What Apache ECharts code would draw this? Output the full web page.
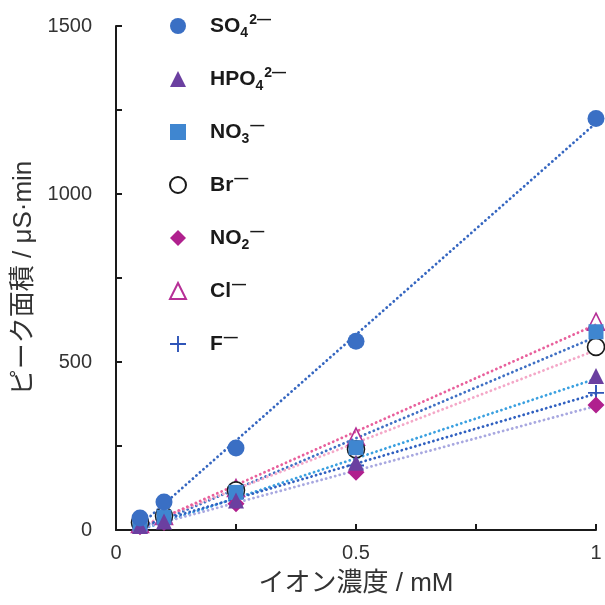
<!DOCTYPE html>
<html><head><meta charset="utf-8">
<script src="https://cdn.jsdelivr.net/npm/echarts@6/dist/echarts.min.js"></script>
<style>html,body{margin:0;padding:0;background:#fff}#c{width:605px;height:605px}</style>
</head><body><div id="c"></div>
<script>
const conc = [0.05, 0.1, 0.25, 0.5, 1.0];
const so4  = [36, 83, 244, 562, 1225];
const hpo4 = [12, 25, 88, 200, 458];
const no3  = [18, 38, 112, 245, 590];
const br   = [22, 42, 118, 240, 545];
const no2  = [10, 22, 78, 172, 372];
const cl   = [18, 42, 125, 278, 620];
const f    = [14, 30, 95, 192, 408];
const xTicks = [0, 0.5, 1];
const yTicks = [0, 500, 1000, 1500];

const legendRich = {
  SO4: '{b|SO}{sub|4}{sup|2—}',
  HPO4: '{b|HPO}{sub|4}{sup|2—}',
  NO3: '{b|NO}{sub|3}{sup|—}',
  Br: '{b|Br}{sup|—}',
  NO2: '{b|NO}{sub|2}{sup|—}',
  Cl: '{b|Cl}{sup|—}',
  F: '{b|F}{sup|—}'
};

const plusPath = 'path://M4.4,0 H5.6 V4.4 H10 V5.6 H5.6 V10 H4.4 V5.6 H0 V4.4 H4.4 Z';

const defs = [
  {name:'SO4', data:so4, symbol:'circle', size:17, item:{color:'#3a6fc4', opacity:1}, line:'#3566c0'},
  {name:'HPO4', data:hpo4, symbol:'triangle', size:16, item:{color:'#6b3fa0', opacity:1}, line:'#3aa0e0'},
  {name:'NO3', data:no3, symbol:'rect', size:15, item:{color:'#3f86d0', opacity:1}, line:'#3f70c4'},
  {name:'Br', data:br, symbol:'circle', size:17, item:{color:'#ffffff', borderColor:'#1a1a1a', borderWidth:1.6, opacity:1}, line:'#f4a8c8'},
  {name:'NO2', data:no2, symbol:'diamond', size:17, item:{color:'#b0208e', opacity:1}, line:'#a8a8e0'},
  {name:'Cl', data:cl, symbol:'triangle', size:17, item:{color:'rgba(255,255,255,0)', borderColor:'#b62f96', borderWidth:1.6, opacity:1}, line:'#e8609c'},
  {name:'F', data:f, symbol:plusPath, size:16, item:{color:'#2f55b8', opacity:1}, line:'#3060c0'}
];

function fit(ys) {
  const n = conc.length;
  let sx=0, sy=0, sxx=0, sxy=0;
  for (let i=0;i<n;i++){ sx+=conc[i]; sy+=ys[i]; sxx+=conc[i]*conc[i]; sxy+=conc[i]*ys[i]; }
  const b = (n*sxy - sx*sy)/(n*sxx - sx*sx);
  const a = (sy - b*sx)/n;
  const x0 = conc[0], x1 = conc[n-1];
  return [[x0, a+b*x0],[x1, a+b*x1]];
}

const series = [];
defs.forEach(d => {
  series.push({
    type:'line', name:d.name+'_fit', data:fit(d.data), showSymbol:false, silent:true, z:1,
    lineStyle:{color:d.line, width:2.8, type:[0.1,4.6], cap:'round', opacity:1}
  });
});
defs.slice().reverse().forEach(d => {
  series.push({
    type:'scatter', name:d.name, symbol:d.symbol, symbolSize:d.size, z:3,
    data: conc.map((x,i)=>[x, d.data[i]]),
    itemStyle: d.item
  });
});

const FONT = 'Liberation Sans, Arial, sans-serif';
const chart = echarts.init(document.getElementById('c'));
chart.setOption({
  animation:false,
  textStyle:{fontFamily:FONT},
  grid:{left:116, right:9, top:26, bottom:75, containLabel:false},
  legend:{
    data: defs.map(d=>d.name),
    orient:'vertical', left:169, top:12, padding:0, itemGap:25, itemWidth:16, itemHeight:16,
    formatter: n => legendRich[n],
    textStyle:{
      color:'#1a1a1a', fontSize:20, fontWeight:'bold', padding:[0,0,0,19],
      rich:{
        b:{fontSize:21, fontWeight:'bold', color:'#1a1a1a', fontFamily:FONT, height:28, lineHeight:28},
        sub:{fontSize:14, fontWeight:'bold', color:'#1a1a1a', fontFamily:FONT, padding:[14,0,0,0], lineHeight:14},
        sup:{fontSize:14, fontWeight:'bold', color:'#1a1a1a', fontFamily:FONT, padding:[0,0,12,1], lineHeight:14}
      }
    }
  },
  xAxis:{
    type:'value', min:0, max:1, interval:0.25,
    name:'イオン濃度 / mM', nameLocation:'middle', nameGap:41,
    nameTextStyle:{fontSize:26, color:'#333', fontFamily:'Liberation Sans, Noto Sans CJK JP, sans-serif'},
    axisLine:{lineStyle:{color:'#1a1a1a', width:2}},
    axisTick:{inside:true, length:6, lineStyle:{color:'#1a1a1a', width:2}},
    axisLabel:{fontSize:20, color:'#333', margin:13,
      formatter: v => { const t = xTicks.find(k=>Math.abs(k-v)<1e-9); return t===undefined ? '' : String(t); }},
    splitLine:{show:false}
  },
  yAxis:{
    type:'value', min:0, max:1500, interval:250,
    name:'ピーク面積 / μS·min', nameLocation:'middle', nameGap:67, nameRotate:90,
    nameTextStyle:{fontSize:26, color:'#333', fontFamily:'Liberation Sans, Noto Sans CJK JP, sans-serif'},
    axisLine:{show:true, lineStyle:{color:'#1a1a1a', width:2}},
    axisTick:{show:true, inside:true, length:6, lineStyle:{color:'#1a1a1a', width:2}},
    axisLabel:{fontSize:20, color:'#333', margin:24,
      formatter: v => yTicks.indexOf(v)>=0 ? String(v) : ''},
    splitLine:{show:false}
  },
  series: series
});
</script></body></html>
